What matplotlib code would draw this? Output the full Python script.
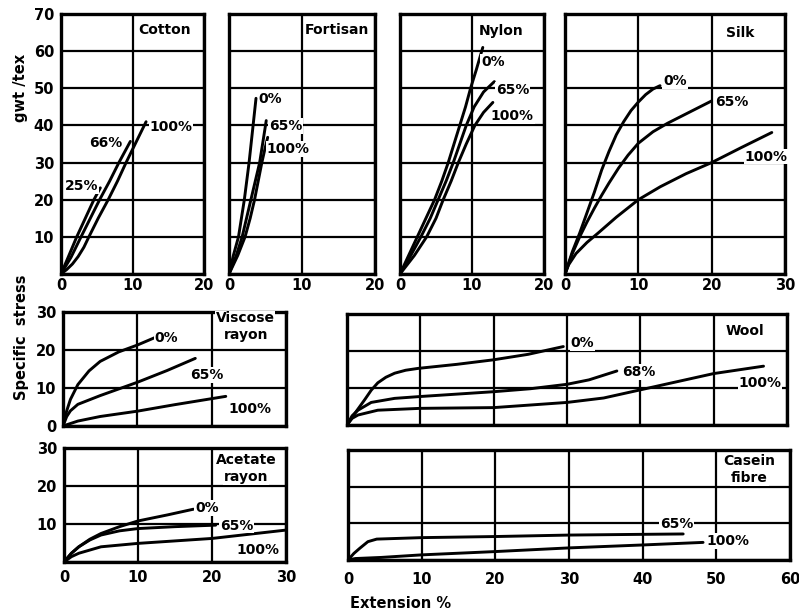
import matplotlib
matplotlib.use("Agg")
import matplotlib.pyplot as plt
import numpy as np

plt.rcParams['font.family'] = ['DejaVu Sans']
plt.rcParams['font.weight'] = 'bold'
plt.rcParams['font.size'] = 10

# --- data (extension %, specific stress gwt/tex) ---
cotton_25_x = [0, 1.0, 2.2, 3.4, 4.6, 5.5]
cotton_25_y = [0, 4.5, 10, 15, 20, 23.2]
cotton_66_x = [0, 1.4, 2.8, 4.1, 5.4, 6.8, 8.1, 9.7]
cotton_66_y = [0, 4.5, 10, 15, 20, 25, 30, 35.7]
cotton_100_x = [0, 0.8, 1.6, 2.4, 3.2, 3.9, 5.2, 6.6, 7.9, 9.1, 10.5, 11.9]
cotton_100_y = [0, 1.2, 2.7, 4.7, 7.2, 10, 15, 20, 25, 30, 35.5, 41]

fortisan_0_x = [0, 0.6, 1.3, 2.1, 2.75, 3.3, 3.7]
fortisan_0_y = [0, 5, 10, 20, 30, 40, 47.3]
fortisan_65_x = [0, 1.0, 1.8, 2.4, 3.0, 3.6, 4.2, 4.6, 5.0, 5.1]
fortisan_65_y = [0, 5, 10, 15, 20, 25, 30, 35, 40, 41.3]
fortisan_100_x = [0, 1.2, 2.2, 2.9, 3.5, 4.0, 4.5, 4.9, 5.3]
fortisan_100_y = [0, 5, 10, 15, 20, 25, 30, 33.5, 36.8]

nylon_0_x = [0, 1.2, 2.4, 3.6, 4.8, 5.8, 6.7, 7.5, 8.3, 9.1, 9.8, 10.6, 11.5]
nylon_0_y = [0, 5, 10, 15, 20, 25, 30, 35, 40, 45, 50, 55, 61]
nylon_65_x = [0, 1.5, 2.9, 4.2, 5.3, 6.4, 7.4, 8.3, 9.2, 10.3, 11.6, 13.1]
nylon_65_y = [0, 5, 10, 15, 20, 25, 30, 35, 40, 45, 49, 51.8]
nylon_100_x = [0, 2.0, 3.7, 5.0, 6.0, 7.1, 8.1, 9.2, 10.4, 11.6, 12.9]
nylon_100_y = [0, 5, 10, 15, 20, 25, 30, 35, 40, 43.5, 46.2]

silk_0_x = [0, 1, 2, 3, 4, 5, 6, 7, 8, 9, 10, 11, 12, 12.96]
silk_0_y = [0, 6, 11, 16.5, 22, 28, 33, 37.5, 41, 44, 46.3, 48.3, 49.8, 50.7]
silk_65_x = [0, 1, 2, 3, 4, 5, 6, 7.3, 8.6, 10, 12, 14, 17, 20]
silk_65_y = [0, 5.5, 10, 14, 17.7, 21.2, 24.5, 28.5, 32, 35.2, 38.3, 40.6, 43.6, 46.6]
silk_100_x = [0, 0.5, 1.5, 3, 4.5, 7, 10, 13, 16.5, 20, 24, 28.2]
silk_100_y = [0, 2.5, 5.5, 8.5, 11, 15.3, 20, 23.5, 27, 30, 34, 38.1]

viscose_0_x = [0, 0.5, 1, 2, 3.5, 5, 7.5, 10, 12.4]
viscose_0_y = [0, 4, 7, 10.9, 14.5, 17, 19.5, 21.3, 23.3]
viscose_65_x = [0, 0.5, 1, 2, 5, 10, 14, 17.8]
viscose_65_y = [0, 2.5, 4, 5.7, 8.0, 11.5, 14.6, 17.8]
viscose_100_x = [0, 2, 5, 10, 15, 21.9]
viscose_100_y = [0, 1.3, 2.5, 3.9, 5.6, 7.8]

wool_0_x = [0, 1.2, 2.4, 3.3, 4.2, 5.3, 6.5, 8, 9.7, 15, 19.9, 24.7, 29.5]
wool_0_y = [0, 3.5, 6.8, 9.4, 11.4, 12.9, 14.0, 14.8, 15.3, 16.4, 17.6, 19.1, 21.2]
wool_68_x = [0, 0.7, 1.5, 3.3, 6.5, 10, 20, 25, 30, 33, 36.8]
wool_68_y = [0, 2.5, 4.0, 6.1, 7.2, 7.7, 9.0, 9.8, 11.0, 12.2, 14.6]
wool_100_x = [0, 0.7, 1.5, 4.2, 10, 20, 30, 35, 40, 45, 50, 56.8]
wool_100_y = [0, 1.8, 2.7, 4.0, 4.5, 4.7, 6.1, 7.3, 9.5, 11.7, 13.9, 15.9]

acetate_0_x = [0, 1, 2, 3.5, 5, 7.5, 10, 14, 17.5]
acetate_0_y = [0, 2.3, 4.0, 6.0, 7.5, 9.3, 10.8, 12.4, 13.9]
acetate_65_x = [0, 1, 2, 3.5, 5, 7.5, 10, 15, 20.5]
acetate_65_y = [0, 2.3, 4.0, 5.8, 7.1, 8.2, 8.8, 9.3, 9.7]
acetate_100_x = [0, 1, 2, 5, 10, 20, 30]
acetate_100_y = [0, 1.4, 2.3, 4.0, 4.9, 6.2, 8.4]

casein_65_x = [0, 0.8, 1.6, 2.7, 3.9, 10, 20, 30, 40, 45.5]
casein_65_y = [0, 1.8, 3.2, 5.0, 5.7, 6.1, 6.4, 6.8, 7.0, 7.1]
casein_100_x = [0, 1, 4.5, 10, 20, 30, 40, 48.2]
casein_100_y = [0, 0.4, 0.7, 1.4, 2.3, 3.3, 4.1, 4.8]

W, H = 799, 614
fig = plt.figure(figsize=(W / 100, H / 100), dpi=100)
fig.patch.set_facecolor('white')


def panel(left, top, right, bottom, xmax, ymax, xlabels, ylabels, xpad=3):
    ax = fig.add_axes([left / W, 1 - bottom / H, (right - left) / W, (bottom - top) / H])
    ax.set_xlim(0, xmax)
    ax.set_ylim(0, ymax)
    ax.set_xticks(np.arange(0, xmax + 1, 10))
    ax.set_yticks(np.arange(0, ymax + 1, 10))
    ax.grid(True, color='black', linewidth=1.6)
    ax.set_axisbelow(True)
    for s in ax.spines.values():
        s.set_linewidth(2.4)
        s.set_color('black')
    ax.tick_params(length=0, labelsize=10.5, pad=xpad)
    ax.tick_params(axis='y', pad=5)
    if not xlabels:
        ax.set_xticklabels([])
    if not ylabels:
        ax.set_yticklabels([])
    else:
        labs = ['' if v == 0 and ylabels == 'no0' else str(int(v)) for v in ax.get_yticks()]
        ax.set_yticklabels(labs)
    return ax


def curve(ax, x, y):
    ax.plot(x, y, color='black', linewidth=2.1, solid_capstyle='round',
            solid_joinstyle='round', zorder=3)


def label(ax, x, y, s, box=True, **kw):
    bb = dict(facecolor='white', edgecolor='none', pad=0.6) if box else None
    ax.text(x, y, s, ha='center', va='center', fontsize=10, fontweight='bold',
            bbox=bb, zorder=4, **kw)


# top row
ax = panel(61, 14, 204, 274, 20, 70, True, 'no0')
curve(ax, cotton_25_x, cotton_25_y)
curve(ax, cotton_66_x, cotton_66_y)
curve(ax, cotton_100_x, cotton_100_y)
label(ax, 14.5, 65.8, 'Cotton', box=False)
label(ax, 2.9, 23.7, '25%')
label(ax, 6.2, 35.3, '66%')
label(ax, 15.4, 39.6, '100%')

ax = panel(229, 14, 375, 274, 20, 70, True, False)
curve(ax, fortisan_0_x, fortisan_0_y)
curve(ax, fortisan_65_x, fortisan_65_y)
curve(ax, fortisan_100_x, fortisan_100_y)
label(ax, 14.8, 65.8, 'Fortisan', box=False)
label(ax, 5.7, 47.2, '0%')
label(ax, 7.8, 39.9, '65%')
label(ax, 8.1, 33.7, '100%')

ax = panel(400, 14, 544, 274, 20, 70, True, False)
curve(ax, nylon_0_x, nylon_0_y)
curve(ax, nylon_65_x, nylon_65_y)
curve(ax, nylon_100_x, nylon_100_y)
label(ax, 14.0, 65.5, 'Nylon', box=False)
label(ax, 12.9, 57.1, '0%')
label(ax, 15.6, 49.6, '65%')
label(ax, 15.6, 42.6, '100%')

ax = panel(565, 14, 785, 274, 30, 70, True, False)
curve(ax, silk_0_x, silk_0_y)
curve(ax, silk_65_x, silk_65_y)
curve(ax, silk_100_x, silk_100_y)
label(ax, 23.9, 65.0, 'Silk', box=False)
label(ax, 15.0, 52.0, '0%')
label(ax, 22.8, 46.3, '65%')
label(ax, 27.4, 31.6, '100%')

# middle row
ax = panel(63, 312, 286, 426, 30, 30, False, True)
curve(ax, viscose_0_x, viscose_0_y)
curve(ax, viscose_65_x, viscose_65_y)
curve(ax, viscose_100_x, viscose_100_y)
label(ax, 24.5, 28.3, 'Viscose')
label(ax, 24.6, 23.9, 'rayon')
label(ax, 13.9, 23.1, '0%')
label(ax, 19.4, 13.5, '65%')
label(ax, 25.2, 4.4, '100%')

ax = panel(347, 314, 787, 425, 60, 30, False, False)
curve(ax, wool_0_x, wool_0_y)
curve(ax, wool_68_x, wool_68_y)
curve(ax, wool_100_x, wool_100_y)
label(ax, 54.3, 25.4, 'Wool', box=False)
label(ax, 32.1, 22.2, '0%')
label(ax, 39.8, 14.3, '68%')
label(ax, 56.3, 11.4, '100%')

# bottom row
ax = panel(64, 448, 286, 562, 30, 30, True, 'no0', xpad=6)
curve(ax, acetate_0_x, acetate_0_y)
curve(ax, acetate_65_x, acetate_65_y)
curve(ax, acetate_100_x, acetate_100_y)
label(ax, 24.6, 26.9, 'Acetate')
label(ax, 24.6, 22.4, 'rayon')
label(ax, 19.3, 14.2, '0%')
label(ax, 23.3, 9.6, '65%')
label(ax, 26.2, 3.1, '100%')

ax = panel(348, 450, 790, 560, 60, 30, True, False, xpad=9)
curve(ax, casein_65_x, casein_65_y)
curve(ax, casein_100_x, casein_100_y)
label(ax, 54.5, 27.0, 'Casein')
label(ax, 54.5, 22.3, 'fibre')
label(ax, 44.6, 9.9, '65%')
label(ax, 51.6, 5.2, '100%')

# axis titles
fig.text(20 / W, 1 - 88 / H, 'gwt /tex', rotation=90, ha='center', va='center', fontsize=10.5)
fig.text(22 / W, 1 - 337 / H, 'Specific  stress', rotation=90, ha='center', va='center', fontsize=10.5)
fig.text(350 / W, 1 - 604 / H, 'Extension %', ha='left', va='center', fontsize=10.5)

fig.savefig('out.png', dpi=100, facecolor='white')
